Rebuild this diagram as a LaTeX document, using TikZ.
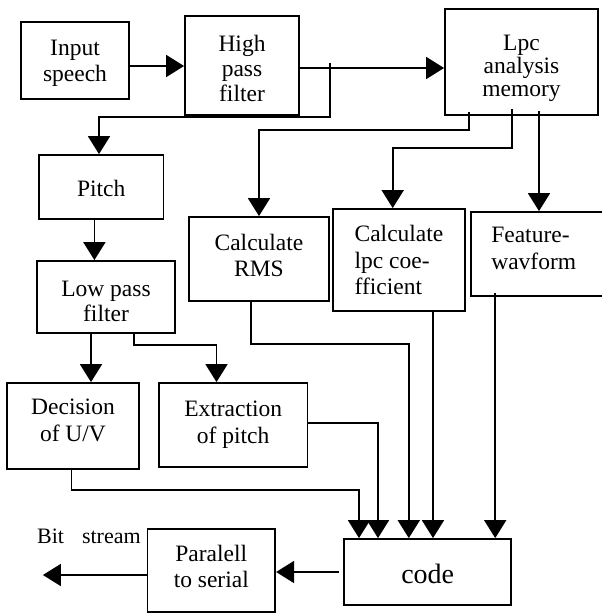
\documentclass[tikz,border=0pt]{standalone}
\usepackage{fontspec}
\setmainfont{Liberation Serif}
\usetikzlibrary{arrows.meta,calc}
\begin{document}
\begin{tikzpicture}[x=1pt,y=-1pt,
  box/.style={draw, line width=1.8pt, inner sep=0pt},
  t/.style={inner sep=0pt, align=center, font=\fontsize{23.5}{26}\selectfont},
  arr/.style={line width=1.8pt, -{Triangle[length=18pt,width=22pt]}},
  lbl/.style={font=\fontsize{22}{26}\selectfont, inner sep=0pt}]
\path[use as bounding box] (0,0) rectangle (602,613);
\clip (0,0) rectangle (602,613);
% boxes
\node[box, minimum width=108pt, minimum height=77pt,
  label={[t, yshift=-3.3pt]center:{Input\\speech}}] (inp) at (75,60.5) {};
\node[box, minimum width=114pt, minimum height=99pt,
  label={[t, font=\fontsize{23.5}{25}\selectfont, yshift=-3.2pt]center:{High\\pass\\filter}}] (hpf) at (242,65.5) {};
\node[box, minimum width=153pt, minimum height=106pt,
  label={[t, font=\fontsize{23.5}{23}\selectfont, yshift=-6.8pt]center:{Lpc\\analysis\\memory}}] (lpc) at (521.5,62) {};
\node[box, minimum width=124.5pt, minimum height=64pt,
  label={[t, yshift=-1.7pt]center:{Pitch}}] (pitch) at (101.25,187) {};
\node[box, minimum width=138pt, minimum height=72pt,
  label={[t, font=\fontsize{23.5}{25}\selectfont, yshift=-4.2pt]center:{Low pass\\filter}}] (lpf) at (106,297) {};
\node[box, minimum width=140.5pt, minimum height=84pt,
  label={[t, yshift=4pt]center:{Calculate\\RMS}}] (rms) at (259,259) {};
\node[box, minimum width=132.4pt, minimum height=102pt,
  label={[t, align=left, font=\fontsize{23.5}{26.5}\selectfont]center:{Calculate\\lpc coe-\\fficient}}] (coef) at (399,260) {};
\node[box, minimum width=169pt, minimum height=84pt,
  label={[t, align=left, font=\fontsize{23.5}{27}\selectfont, anchor=west, xshift=21pt, yshift=5.3pt]west:{Feature-\\wavform}}] (feat) at (555.5,254) {};
\node[box, minimum width=132.4pt, minimum height=86pt,
  label={[t, font=\fontsize{23.5}{27}\selectfont, yshift=5.4pt]center:{Decision\\of U/V}}] (dec) at (73,426) {};
\node[box, minimum width=148.6pt, minimum height=84pt,
  label={[t, font=\fontsize{23.5}{27}\selectfont, yshift=0.5pt]center:{Extraction\\of pitch}}] (ext) at (233.2,425) {};
\node[box, minimum width=167.3pt, minimum height=66pt,
  label={[t, font=\fontsize{28}{30}\selectfont, yshift=-1.7pt]center:{code}}] (code) at (427.7,572) {};
\node[box, minimum width=127.8pt, minimum height=83pt,
  label={[t, yshift=3.8pt]center:{Paralell\\to serial}}] (par) at (211.3,570.5) {};
\node[lbl, anchor=base west] (bit) at (36.9,543) {Bit\hspace{18pt}stream};
% connectors
\coordinate (a1) at ($(inp.east)+(0,5.5)$);
\draw[arr] (a1) -- (a1 -| hpf.west);
\coordinate (a2) at ($(hpf.east)+(-2,2.5)$);
\draw[arr] (a2) -- (a2 -| lpc.west);
\draw[arr] ($(hpf.east)+(30,-2.5)$) |- ($(pitch.north)+(-2.25,-37)$) -- ($(pitch.north)+(-2.25,0)$);
\draw[arr] ($(lpc.south)+(-52.5,-4)$) |- ($(rms.north)+(0,-86)$) -- (rms.north);
\draw[arr] ($(lpc.south)+(-9.5,-7)$) |- ($(coef.north)+(-6.3,-60)$) -- ($(coef.north)+(-6.3,0)$);
\coordinate (f1) at (539,111);
\draw[arr] (f1) -- (f1 |- feat.north);
\coordinate (p1) at ($(pitch.south)+(-6.85,0)$);
\draw[arr] (p1) -- (p1 |- lpf.north);
\coordinate (l1) at ($(lpf.south)+(-15,0)$);
\draw[arr] (l1) -- (l1 |- dec.north);
\draw[arr] ($(lpf.south)+(27.6,0)$) |- ($(ext.north)+(-16.7,-37)$) -- ($(ext.north)+(-16.7,0)$);
\draw[arr] ($(rms.south)+(-8,-2)$) |- ($(code.north)+(-18.9,-194)$) -- ($(code.north)+(-18.9,0)$);
\coordinate (c1) at ($(coef.south)+(34,0)$);
\draw[arr] (c1) -- (c1 |- code.north);
\coordinate (c3) at (495.2,293);
\draw[arr] (c3) -- (c3 |- code.north);
\draw[arr] ($(ext.east)+(0,-2)$) -| ($(code.north)+(-49.7,0)$);
\draw[arr] ($(dec.south)+(-1.6,-2)$) |- ($(code.north)+(-68.7,-48)$) -- ($(code.north)+(-68.7,0)$);
\coordinate (c2) at ($(code.west)+(-4.3,0)$);
\draw[arr] (c2) -- (c2 -| par.east);
\coordinate (out) at ($(par.west)+(-103.6,4.5)$);
\draw[arr] ($(par.west)+(0,4.5)$) -- (out);
\end{tikzpicture}
\end{document}
